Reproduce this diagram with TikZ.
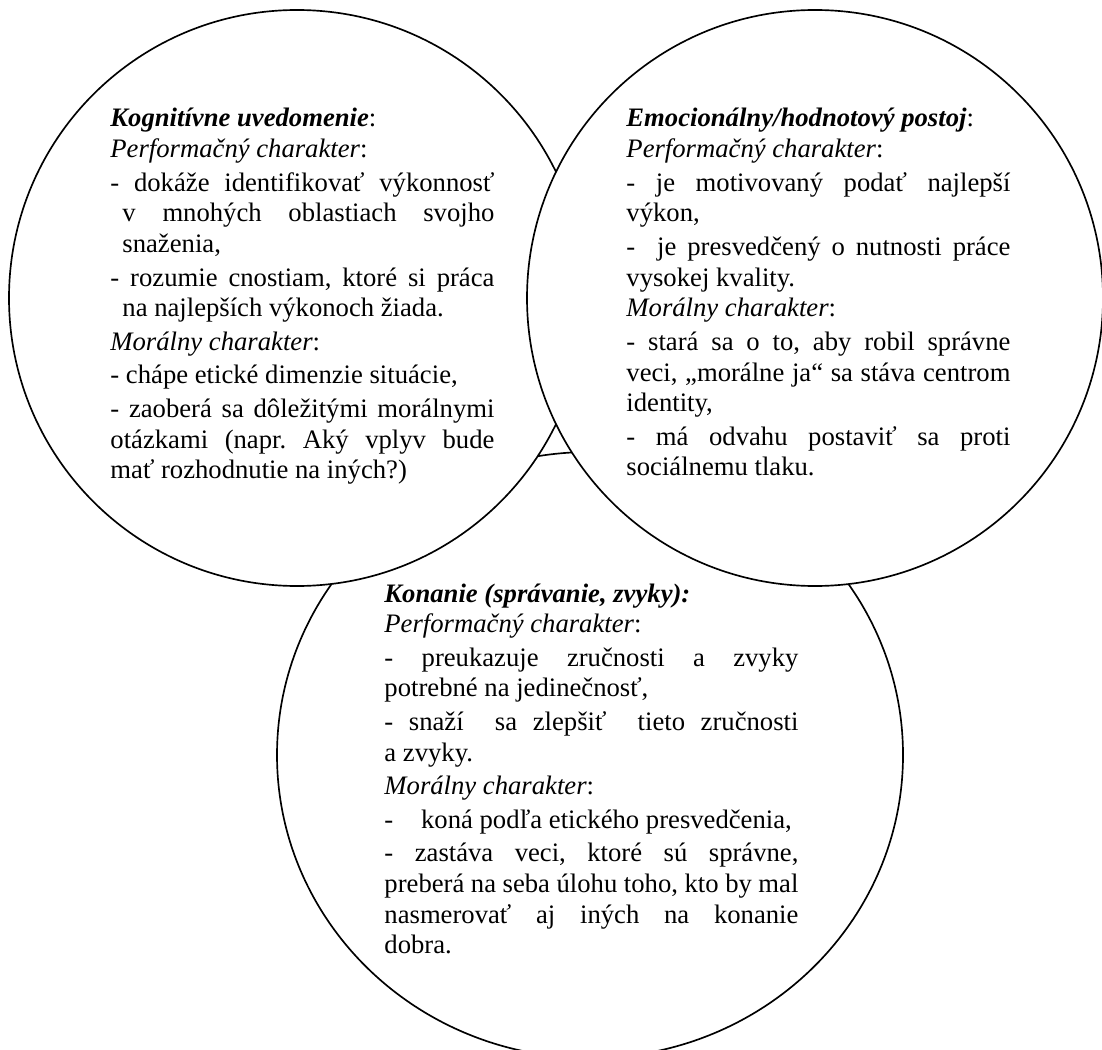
\documentclass[tikz,border=0pt]{standalone}
\usepackage{fontspec}
\setmainfont{Liberation Serif}[Ligatures=CommonOff]
\tikzset{
  ring/.style={draw=black,line width=0.75pt,fill=white},
  col/.style={anchor=base west,inner sep=0pt,align=justify,font=\fontsize{12}{13.8}\selectfont}
}
\newcommand{\setcol}{\frenchspacing\tolerance=10000\hyphenpenalty=10000\exhyphenpenalty=10000\parskip=1.3pt\parindent=0pt}

\begin{document}
\begin{tikzpicture}[x=0.45pt,y=-0.45pt]
\clip (0,0) rectangle (1102,1049);
\fill[white] (0,0) rectangle (1102,1049);
% three overlapping fields
\draw[ring] (590,755) ellipse [x radius=313,y radius=303];
\draw[ring] (297,298) circle [radius=288];
\draw[ring] (815,298) circle [radius=288];
% texts
\node[col,text width=172.8pt] (kog) at (110,127) {\setcol
\textbf{\textit{Kognitívne uvedomenie}}:\\
\textit{Performačný charakter}:\par
\hangindent=5.4pt - dokáže identifikovať výkonnosť\linebreak v~mnohých oblastiach svojho\linebreak snaženia,\par
\hangindent=5.4pt - rozumie cnostiam, ktoré si práca\linebreak na najlepších výkonoch žiada.\par
\textit{Morálny charakter}:\par
- chápe etické dimenzie situácie,\par
\hangindent=5.4pt - zaoberá sa dôležitými morálnymi\linebreak otázkami (napr. Aký vplyv bude\linebreak mať rozhodnutie na iných?)};
\node[col,text width=172.8pt] (emo) at (626,127) {\setcol
\textbf{\textit{Emocionálny/hodnotový postoj}}:\\
\textit{Performačný charakter}:\par
- je motivovaný podať najlepší\linebreak výkon,\par
-\ \ je presvedčený o~nutnosti práce\linebreak vysokej kvality.\\
\textit{Morálny charakter}:\par
- stará sa o~to, aby robil správne\linebreak veci, „morálne ja“ sa stáva centrom\linebreak identity,\par
- má odvahu postaviť sa proti\linebreak sociálnemu tlaku.};
\node[col,text width=186.3pt] (kon) at (384,602) {\setcol
\textbf{\textit{Konanie (správanie, zvyky):}}\\
\textit{Performačný charakter}:\par
- preukazuje zručnosti a~zvyky\linebreak potrebné na jedinečnosť,\par
- snaží\ \ sa zlepšiť\ \ tieto zručnosti\linebreak a~zvyky.\par
\textit{Morálny charakter}:\par
-\hspace{12.5pt}koná podľa etického presvedčenia,\par
- zastáva veci, ktoré sú správne,\linebreak preberá na seba úlohu toho, kto by mal\linebreak nasmerovať aj iných na konanie\linebreak dobra.};
\end{tikzpicture}
\end{document}
